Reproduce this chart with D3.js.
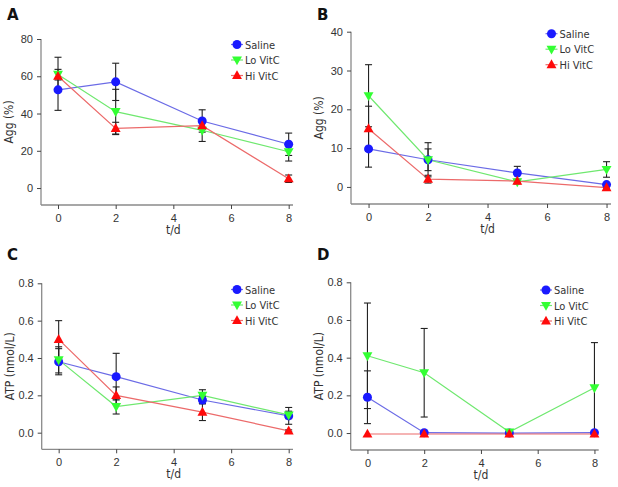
<!DOCTYPE html>
<html><head><meta charset="utf-8">
<script src="https://cdn.jsdelivr.net/npm/d3@7"></script>
<style>
html,body{margin:0;padding:0;background:#fff;}
svg{display:block;font-family:"DejaVu Sans Condensed","DejaVu Sans",sans-serif;}
</style></head><body>
<svg id="chart" width="618" height="487"></svg>
<script>
const days = [0, 2, 5, 8];
const seriesNames = ["Saline", "Lo VitC", "Hi VitC"];
const xTicks = [0, 2, 4, 6, 8];

// Panel A: platelet aggregation (%)
const aSaline = [52.7, 57, 36, 23.5];
const aSalineErr = [11, 10, 6, 6];
const aLo = [61, 41, 31, 19.5];
const aLoErr = [9.2, 12, 6, 5];
const aHi = [60, 32, 33.5, 5];
const aHiErr = [2, 3.3, 2, 2];
const aYTicks = [0, 20, 40, 60, 80];

// Panel B: aggregation (%)
const bSaline = [9.8, 7.0, 3.6, 0.6];
const bSalineErr = [4.7, 2.8, 1.7, 0.5];
const bLo = [23.5, 7.0, 1.3, 4.5];
const bLoErr = [8, 4.4, 0.5, 2];
const bHi = [15, 2.0, 1.5, -0.2];
const bHiErr = [5.8, 1.0, 0.5, 0.3];
const bYTicks = [0, 10, 20, 30, 40];

// Panel C: ATP (nmol/L)
const cSaline = [0.38, 0.30, 0.175, 0.09];
const cSalineErr = [0.07, 0.125, 0.02, 0.045];
const cLo = [0.39, 0.14, 0.20, 0.095];
const cLoErr = [0.07, 0.04, 0.03, 0.02];
const cHi = [0.50, 0.20, 0.11, 0.01];
const cHiErr = [0.10, 0.045, 0.045, 0.005];
const cYTicks = [0.0, 0.2, 0.4, 0.6, 0.8];

// Panel D: ATP (nmol/L)
const dSaline = [0.19, 0.002, 0.0, 0.002];
const dSalineErr = [0.14, 0.0, 0.0, 0.0];
const dLo = [0.41, 0.32, 0.005, 0.24];
const dLoErr = [0.28, 0.235, 0.0, 0.24];
const dHi = [-0.005, -0.005, -0.005, -0.005];
const dHiErr = [0, 0, 0, 0];
const dYTicks = [0.0, 0.2, 0.4, 0.6, 0.8];

const markerFill = ["#1a1aff", "#33ff33", "#ff0a0a"];
const lineColor = ["#6b6be6", "#6fe86f", "#ec6a6a"];
const symbols = ["circle", "down", "up"];

const panels = [
  {label:"A", ox:0, oy:0, xr:[41,293], yr:[205,39], yd:[-9.1,80], yTicks:aYTicks, fmt:d3.format("d"), title:"Agg (%)",
   data:[[aSaline,aSalineErr],[aLo,aLoErr],[aHi,aHiErr]], leg:[237,44.5]},
  {label:"B", ox:310, oy:0, xr:[41,301], yr:[204,31.7], yd:[-4.4,40], yTicks:bYTicks, fmt:d3.format("d"), title:"Agg (%)",
   data:[[bSaline,bSalineErr],[bLo,bLoErr],[bHi,bHiErr]], leg:[241.5,33.7]},
  {label:"C", ox:0, oy:240, xr:[41.7,293], yr:[209.3,43.3], yd:[-0.089,0.8], yTicks:cYTicks, fmt:d3.format(".1f"), title:"ATP (nmol/L)",
   data:[[cSaline,cSalineErr],[cLo,cLoErr],[cHi,cHiErr]], leg:[237,49.5]},
  {label:"D", ox:310, oy:240, xr:[40.7,288.7], yr:[210,42.3], yd:[-0.09,0.8], yTicks:dYTicks, fmt:d3.format(".1f"), title:"ATP (nmol/L)",
   data:[[dSaline,dSalineErr],[dLo,dLoErr],[dHi,dHiErr]], leg:[236,50]}
];

const svg = d3.select("#chart");
const axisColor = "#8a8a8a";
const textColor = "#333";

function drawMarker(g, type, x, y, fill, size) {
  if (type === "circle") {
    g.append("circle").attr("cx", x).attr("cy", y).attr("r", size*0.5).attr("fill", fill);
  } else {
    const s = size*1.1, h = s*0.9;
    let pts;
    if (type === "up") pts = [[x, y - h*0.6],[x - s/2, y + h*0.4],[x + s/2, y + h*0.4]];
    else pts = [[x, y + h*0.6],[x - s/2, y - h*0.4],[x + s/2, y - h*0.4]];
    g.append("polygon").attr("points", pts.map(p=>p.join(",")).join(" ")).attr("fill", fill);
  }
}

panels.forEach(p => {
  const g = svg.append("g").attr("transform", `translate(${p.ox},${p.oy})`);
  const x = d3.scaleLinear().domain([-0.59, 8.15]).range(p.xr);
  const y = d3.scaleLinear().domain(p.yd).range(p.yr);

  g.append("text").attr("x", 7).attr("y", 20).attr("font-size", 15).attr("font-weight", "bold")
    .attr("font-family", "DejaVu Sans, sans-serif").attr("fill", "#111").text(p.label);

  const yAxis = g.append("g").attr("transform", `translate(${p.xr[0]},0)`)
    .call(d3.axisLeft(y).tickValues(p.yTicks).tickFormat(p.fmt).tickSize(4).tickPadding(4));
  yAxis.select(".domain").attr("d", `M0,${p.yr[0]}V${p.yr[1]}`).attr("stroke", axisColor).attr("stroke-width", 1.3);
  yAxis.selectAll(".tick line").attr("stroke", "#444");
  yAxis.selectAll(".tick text").attr("fill", textColor).attr("font-size", 11);

  const xAxis = g.append("g").attr("transform", `translate(0,${p.yr[0]})`)
    .call(d3.axisBottom(x).tickValues(xTicks).tickFormat(d3.format("d")).tickSize(4).tickPadding(5));
  xAxis.select(".domain").attr("d", `M${p.xr[0]},0H${p.xr[1]}`).attr("stroke", axisColor).attr("stroke-width", 1.3);
  xAxis.selectAll(".tick line").attr("stroke", "#444");
  xAxis.selectAll(".tick text").attr("fill", textColor).attr("font-size", 11);

  g.append("text").attr("x", (x(0)+x(8))/2).attr("y", p.yr[0] + 29).attr("text-anchor", "middle")
    .attr("font-size", 12).attr("fill", textColor).text("t/d");
  const ymid = (p.yr[0] + p.yr[1]) / 2;
  g.append("text").attr("transform", `translate(${p.xr[0]-28},${ymid}) rotate(-90)`)
    .attr("text-anchor", "middle").attr("font-size", 12).attr("fill", textColor).text(p.title);

  const line = d3.line().x((d,i)=>x(days[i])).y(d=>y(d));
  p.data.forEach((s, k) => {
    g.append("path").attr("d", line(s[0])).attr("fill", "none").attr("stroke", lineColor[k]).attr("stroke-width", 1.2);
  });
  p.data.forEach((s, k) => {
    s[0].forEach((v, i) => {
      const e = s[1][i];
      if (e <= 0) return;
      const cx = x(days[i]);
      const eg = g.append("g").attr("stroke", "#222").attr("stroke-width", 1.1);
      eg.append("line").attr("x1", cx).attr("x2", cx).attr("y1", y(v+e)).attr("y2", y(v-e));
      eg.append("line").attr("x1", cx-3.5).attr("x2", cx+3.5).attr("y1", y(v+e)).attr("y2", y(v+e));
      eg.append("line").attr("x1", cx-3.5).attr("x2", cx+3.5).attr("y1", y(v-e)).attr("y2", y(v-e));
    });
  });
  p.data.forEach((s, k) => {
    s[0].forEach((v, i) => drawMarker(g, symbols[k], x(days[i]), y(v), markerFill[k], 9));
  });

  seriesNames.forEach((n, k) => {
    const ly = p.leg[1] + k*15.5;
    const lx = p.leg[0];
    g.append("line").attr("x1", lx-6).attr("x2", lx+6).attr("y1", ly).attr("y2", ly)
      .attr("stroke", lineColor[k]).attr("stroke-width", 1.2);
    drawMarker(g, symbols[k], lx, ly, markerFill[k], 9);
    g.append("text").attr("x", lx+8).attr("y", ly+4).attr("font-size", 11).attr("fill", textColor).text(n);
  });
});
</script>
</body></html>
